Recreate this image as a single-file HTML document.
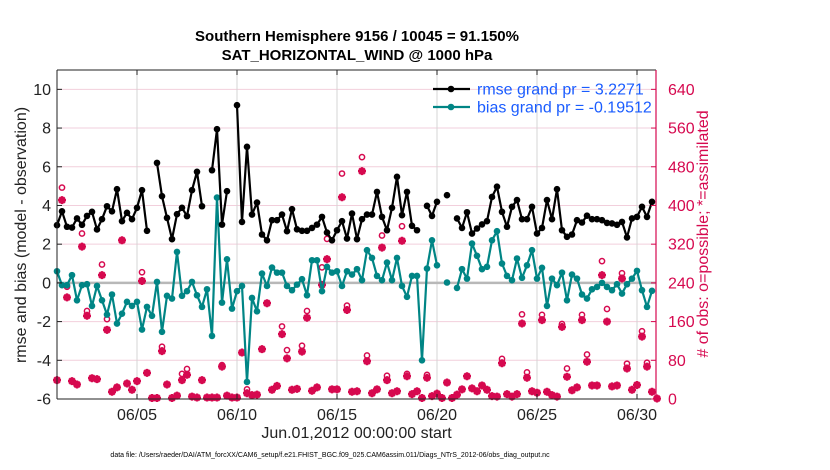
<!DOCTYPE html>
<html><head><meta charset="utf-8"><style>
body{margin:0;background:#fff;}
svg{display:block;font-family:"Liberation Sans",Arial,sans-serif;}
</style></head><body>
<svg id="chart" width="830" height="470" viewBox="0 0 830 470"></svg>
<script>
const days = [];
const rmse = [2.98,3.7,2.9,2.86,3.33,3.0,3.46,3.67,2.76,3.29,3.96,3.7,4.84,3.19,3.62,3.29,3.88,4.79,2.69,null,6.2,4.48,3.36,2.26,3.55,3.88,3.45,4.79,5.74,3.96,
null,5.82,7.94,3.01,4.74,null,9.18,3.15,7.03,3.53,4.15,2.5,2.2,3.24,3.24,3.53,2.67,3.81,2.77,2.69,2.69,2.84,3.01,3.41,2.6,2.2,2.72,3.19,2.29,
3.58,2.26,3.29,3.53,3.53,4.7,3.41,2.72,3.88,5.48,3.5,4.7,2.95,2.72,null,3.98,3.46,4.19,null,4.53,null,3.33,2.84,3.65,2.55,2.81,3.02,3.19,4.44,
4.97,3.67,2.9,3.93,4.28,3.29,3.29,3.93,2.55,2.84,4.28,3.29,4.84,2.72,2.38,2.5,3.24,3.12,3.47,3.29,3.29,
3.24,3.1,3.07,3.0,3.15,2.35,3.33,3.41,3.93,3.41,4.19,null];
const bias = [0.6,-0.12,-0.12,0.4,-0.9,-0.12,-0.07,-1.19,-0.16,-0.9,-1.64,-0.6,-2.1,-1.59,-0.98,-1.19,-0.98,-2.41,-1.24,-1.7,0.05,-2.53,-0.67,-0.81,1.6,-0.67,-0.43,0.05,-0.64,-1.24,
-0.33,-2.74,4.41,-1.02,1.22,-1.33,-0.43,-0.16,-5.12,-0.78,-1.47,0.48,-0.16,0.79,0.53,0.53,-0.16,-0.38,-0.09,0.19,-0.64,1.17,1.17,-0.43,0.83,0.53,0.6,-0.16,0.6,
0.43,0.71,0.14,1.69,1.29,0.36,0.14,1.05,0.14,1.29,-0.16,-0.72,0.36,0.36,-4.0,0.74,2.2,0.91,null,0.02,null,-0.26,0.71,0.22,2.03,1.4,0.71,0.83,2.2,
2.67,1.0,0.36,0.14,1.26,0.26,0.91,1.69,0.22,0.78,-1.19,0.22,-0.12,0.53,-0.9,0.43,0.22,-0.6,-0.81,-0.33,-0.21,
0,-0.21,-0.38,-0.07,-0.55,-0.07,0.22,0.62,-0.38,-1.24,-0.41,null];
const nAssim = [39,411,210,37,30,315,172,43,41,256,143,15,24,328,32,19,37,244,54,2,2,99,30,2,7,39,50,5,3,39,
3,3,3,67,7,3,3,96,12,8,9,103,198,19,27,134,84,19,21,98,168,17,24,236,289,20,20,417,184,
15,16,471,78,12,20,313,39,12,16,327,47,10,16,2,44,6,11,2,34,2,9,20,47,22,16,28,19,6,
5,74,10,5,10,156,44,16,13,163,15,8,5,149,46,18,24,163,77,28,28,256,160,26,28,249,63,19,29,129,67,15,1];
const possOverrides = {1:437,2:232,5:342,6:182,9:278,10:165,17:262,21:108,25:52,26:62,33:70,38:20,45:150,46:101,49:110,50:182,53:272,54:331,57:466,58:193,61:500,62:90,65:338,66:48,69:357,70:52,74:50,89:83,93:175,94:55,97:174,101:155,102:63,105:174,106:92,109:285,110:186,113:260,114:73,117:140,118:75};
const nPoss = nAssim.map((v,i)=> possOverrides[i]!==undefined ? possOverrides[i] : v);
for (let i=0;i<nAssim.length;i++) days.push(1 + i*0.25);
const leftTicks = [-6,-4,-2,0,2,4,6,8,10];
const rightTicks = [0,80,160,240,320,400,480,560,640];
const xTickDays = [5,10,15,20,25,30];
const xTickLabels = ["06/05","06/10","06/15","06/20","06/25","06/30"];

const NS="http://www.w3.org/2000/svg";
const svg=document.getElementById('chart');
const L=57,R=656,T=70,B=399;
const xs = d => L + (d-1)*20;
const yl = v => B - (v+6)*(B-T)/17;
const yr = v => B - v*(B-T)/(17*40);
const CR="#d6094f";
function el(tag, attrs, parent){const e=document.createElementNS(NS,tag);for(const k in attrs)e.setAttribute(k,attrs[k]);(parent||svg).appendChild(e);return e;}

leftTicks.forEach(v=>{const g=el('line',{x1:L,x2:R,y1:yl(v),y2:yl(v),stroke:'#f2cfdc','stroke-width':1});

});
xTickDays.forEach(d=>{const g=el('line',{x1:xs(d),x2:xs(d),y1:T,y2:B,stroke:'#d4d4d4','stroke-width':1});

});
const zl=el('line',{x1:L,x2:R,y1:yl(0),y2:yl(0),stroke:'#b8b8b8','stroke-width':2.5});



const obsG=el('g',{});


nPoss.forEach((v,i)=>{const c=el('circle',{cx:xs(days[i]),cy:yr(v),r:2.6,fill:'none',stroke:CR,'stroke-width':1.5},obsG);

});
nAssim.forEach((v,i)=>{const x=xs(days[i]),y=yr(v),s=4;
const p=el('path',{d:`M${x-s} ${y}H${x+s}M${x} ${y-s}V${y+s}M${x-s*0.7} ${y-s*0.7}L${x+s*0.7} ${y+s*0.7}M${x-s*0.7} ${y+s*0.7}L${x+s*0.7} ${y-s*0.7}`,stroke:CR,'stroke-width':2.4,fill:'none'},obsG);

});

function series(vals,color,name){
  const g=el('g',{});
  
  
  let d='',pen=false;
  vals.forEach((v,i)=>{if(v===null){pen=false;return;}d+=(pen?'L':'M')+xs(days[i]).toFixed(1)+' '+yl(v).toFixed(1);pen=true;});
  el('path',{d:d,stroke:color,'stroke-width':2.2,fill:'none','stroke-linejoin':'round'},g);
  vals.forEach((v,i)=>{if(v===null)return;const c=el('circle',{cx:xs(days[i]),cy:yl(v),r:3.3,fill:color},g);
  
  });
}
series(bias,'#008585','bias-series');
series(rmse,'#000000','rmse-series');

el('line',{x1:L,x2:R,y1:T,y2:T,stroke:'#222','stroke-width':1});
el('line',{x1:L,x2:R,y1:B,y2:B,stroke:'#222','stroke-width':1});
el('line',{x1:L,x2:L,y1:T,y2:B,stroke:'#222','stroke-width':1});
el('line',{x1:R,x2:R,y1:T,y2:B,stroke:CR,'stroke-width':1.2});

leftTicks.forEach(v=>{el('line',{x1:L,x2:L+5,y1:yl(v),y2:yl(v),stroke:'#222'});
const t=el('text',{x:L-6,y:yl(v)+5.5,'text-anchor':'end','font-size':16,fill:'#222'});t.textContent=v;

});
rightTicks.forEach(v=>{el('line',{x1:R-5,x2:R,y1:yr(v),y2:yr(v),stroke:CR});
const t=el('text',{x:R+12,y:yr(v)+5.5,'font-size':16,fill:CR});t.textContent=v;

});
xTickDays.forEach((d,i)=>{el('line',{x1:xs(d),x2:xs(d),y1:B,y2:B-5,stroke:'#222'});el('line',{x1:xs(d),x2:xs(d),y1:T,y2:T+5,stroke:'#222'});
const t=el('text',{x:xs(d),y:B+21,'text-anchor':'middle','font-size':16,fill:'#222'});t.textContent=xTickLabels[i];

});

const lg=el('g',{});


[['#000','rmse grand pr = 3.2271',89],['#008585','bias grand pr = -0.19512',107]].forEach(r=>{
el('line',{x1:433,x2:470,y1:r[2],y2:r[2],stroke:r[0],'stroke-width':2.2},lg);
el('circle',{cx:451,cy:r[2],r:3.3,fill:r[0]},lg);
const t=el('text',{x:477,y:r[2]+5.5,'font-size':16,fill:'#1a5cff'},lg);t.textContent=r[1];

});
</script>
<div style="position:absolute;left:0;top:0;width:830px;height:470px;pointer-events:none;font-family:'Liberation Sans',Arial,sans-serif;">
<div style="position:absolute;left:0;width:714px;top:27px;text-align:center;font-weight:bold;font-size:15px;line-height:19px;color:#000;">Southern Hemisphere 9156 / 10045 = 91.150%<br>SAT_HORIZONTAL_WIND @ 1000 hPa</div>
<div style="position:absolute;left:57px;width:599px;top:425px;text-align:center;font-size:16px;color:#222;">Jun.01,2012 00:00:00 start</div>
<div style="position:absolute;left:0;width:660px;top:452px;text-align:center;font-size:7px;color:#000;">data file: /Users/raeder/DAI/ATM_forcXX/CAM6_setup/f.e21.FHIST_BGC.f09_025.CAM6assim.011/Diags_NTrS_2012-06/obs_diag_output.nc</div>
<div style="position:absolute;left:22px;top:235px;transform:translate(-50%,-50%) rotate(-90deg);white-space:nowrap;font-size:16px;color:#222;">rmse and bias (model - observation)</div>
<div style="position:absolute;left:704px;top:234px;transform:translate(-50%,-50%) rotate(-90deg);white-space:nowrap;font-size:16px;color:#d6094f;"># of obs: o=possible; *=assimilated</div>
</div>
</body></html>
